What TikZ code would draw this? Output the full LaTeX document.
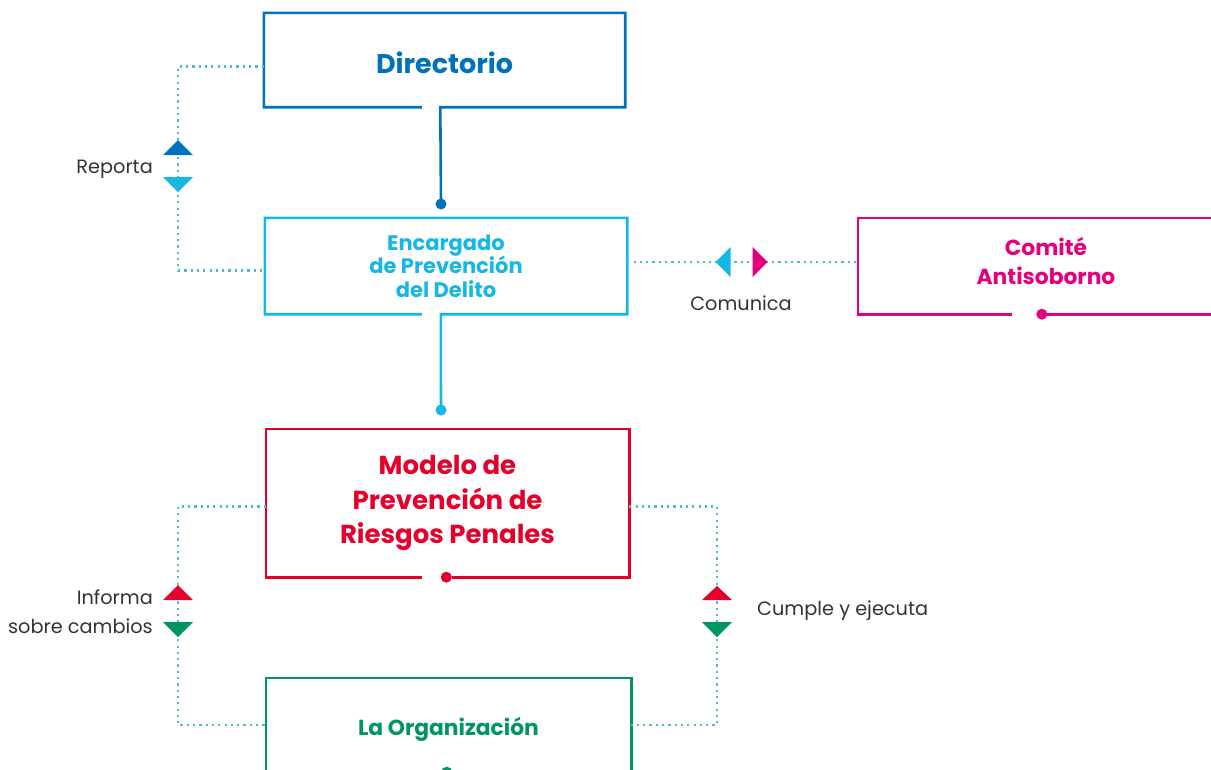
\documentclass[tikz,border=0pt]{standalone}
\usepackage{fontspec}
\setmainfont{Poppins}
\usetikzlibrary{positioning}

\definecolor{dirblue}{RGB}{0,113,188}
\definecolor{encblue}{RGB}{22,183,230}
\definecolor{commag}{RGB}{228,0,125}
\definecolor{modred}{RGB}{228,0,43}
\definecolor{orggreen}{RGB}{0,150,100}
\definecolor{dotteal}{RGB}{75,188,204}
\definecolor{txtgray}{RGB}{51,51,51}

\tikzset{
  boxnode/.style={inner sep=0pt, align=center},
  frameline/.style={line width=2.6pt},
  dotline/.style={draw=dotteal, line width=2.2pt, dash pattern=on 2.2pt off 4.1pt},
  lbl/.style={font=\fontsize{19.3}{22}\selectfont, text=txtgray, inner sep=0pt},
}

\begin{document}
\begin{tikzpicture}[x=1pt,y=-1pt]
\useasboundingbox (0,0) rectangle (1211,769);
\clip (0,0) rectangle (1211,769);

% Boxes
\node[boxnode, text=dirblue, minimum width=361pt, minimum height=94pt, font=\fontsize{27}{30}\selectfont\bfseries] (dir) at (444.5,60) {\raisebox{-3pt}[\height][\depth]{Directorio}};
\node[boxnode, text=encblue, minimum width=362pt, minimum height=96pt, font=\fontsize{21}{23.5}\selectfont\bfseries] (enc) at (446,266) {Encargado\\de Prevención\\del Delito};
\node[boxnode, minimum width=376pt, minimum height=96pt] (com) at (1046,266) {};
\node[boxnode, text=commag, font=\fontsize{21.8}{29}\selectfont\bfseries] (comtxt) at ([yshift=5pt]com.center) {Comité\\Antisoborno};
\node[boxnode, text=modred, minimum width=363pt, minimum height=148pt, font=\fontsize{26}{34.5}\selectfont\bfseries] (mod) at (447.5,503) {Modelo de\\Prevención de\\Riesgos Penales};
\node[boxnode, text=orggreen, minimum width=365pt, minimum height=94pt, font=\fontsize{21.8}{24}\selectfont\bfseries] (org) at (448.5,725) {\raisebox{-4pt}[\height][\depth]{La Organización}};

\coordinate (dirdot) at (441,204);
\coordinate (encdot) at (441,410);

% Frames with links
\draw[frameline, dirblue] ([xshift=158pt]dir.south west) -- (dir.south west) -- (dir.north west) -- (dir.north east) -- (dir.south east) -- ([xshift=176.5pt]dir.south west) -- (dirdot);
\fill[dirblue] (dirdot) circle (5.5);
\draw[frameline, encblue] ([xshift=157pt]enc.south west) -- (enc.south west) -- (enc.north west) -- (enc.north east) -- (enc.south east) -- ([xshift=176pt]enc.south west) -- (encdot);
\fill[encblue] (encdot) circle (5.5);
\draw[frameline, commag] ([xshift=154pt]com.south west) -- (com.south west) -- (com.north west) -- (com.north east) -- (com.south east) -- ([xshift=189pt]com.south west);
\fill[commag] ([xshift=184pt]com.south west) circle (5.5);
\draw[frameline, modred] ([xshift=156pt]mod.south west) -- (mod.south west) -- (mod.north west) -- (mod.north east) -- (mod.south east) -- ([xshift=186pt]mod.south west);
\fill[modred] ([xshift=180.5pt]mod.south west) circle (5.5);
\draw[frameline, orggreen] (org.south west) -- (org.north west) -- (org.north east) -- (org.south east);
\fill[orggreen] ([xshift=181pt]org.south west) circle (5.5);

% Dotted connectors
\coordinate (lftA) at (178,166);
\coordinate (midC) at (741.5,262);
\coordinate (lftB) at (178,611);
\coordinate (rgtB) at (717,611);
\draw[dotline] ([yshift=-6.5pt]dir.west) -| (lftA) |- ([yshift=-4.5pt]enc.west);
\draw[dotline] ([yshift=4pt]enc.east) -- ([yshift=4pt]com.west);
\draw[dotline] ([yshift=-3.5pt]mod.west) -| (lftB) |- (org.west);
\draw[dotline] ([yshift=-3.5pt]mod.east) -| (rgtB) |- (org.east);

% Tips
\fill[dirblue, shift={(lftA)}] (0,-26) -- (15,-11) -- (-15,-11) -- cycle;
\fill[encblue, shift={(lftA)}] (0,26) -- (15,11) -- (-15,11) -- cycle;
\fill[encblue, shift={(midC)}] (-26,0) -- (-11,-15) -- (-11,15) -- cycle;
\fill[commag, shift={(midC)}] (26,0) -- (11,-15) -- (11,15) -- cycle;
\fill[modred, shift={(lftB)}] (0,-26) -- (15,-11) -- (-15,-11) -- cycle;
\fill[orggreen, shift={(lftB)}] (0,26) -- (15,11) -- (-15,11) -- cycle;
\fill[modred, shift={(rgtB)}] (0,-25) -- (15,-11) -- (-15,-11) -- cycle;
\fill[orggreen, shift={(rgtB)}] (0,26) -- (15,11) -- (-15,11) -- cycle;

% Labels
\node[lbl, anchor=mid east] (reporta) at (153,171) {Reporta};
\node[lbl, anchor=mid east] (informa) at (153,602) {Informa};
\node[lbl, anchor=mid east] (cambios) at (153,631) {sobre cambios};
\node[lbl, anchor=mid west] (cumple) at (757,613) {Cumple y ejecuta};
\node[lbl, anchor=mid] (comunica) at (741,308) {Comunica};

\end{tikzpicture}
\end{document}
